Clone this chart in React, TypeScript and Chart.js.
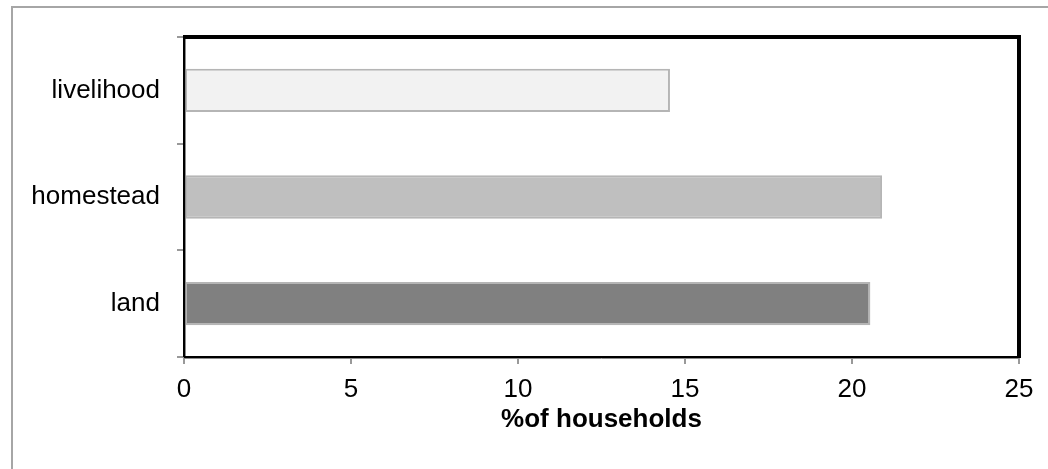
import React, { useEffect, useRef } from 'react';
import { Chart, registerables } from 'chart.js';

Chart.register(...registerables);

const categories = ['livelihood', 'homestead', 'land'];
const values = [14.55, 20.9, 20.55];
const barColors = ['#f2f2f2', '#bfbfbf', '#808080'];
const xTitle = '%of households';
const xMin = 0;
const xMax = 25;
const xStep = 5;

const FONT = '"Liberation Sans", Arial, Helvetica, sans-serif';

const framePlugin = {
  id: 'frame',
  beforeDraw(chart: any) {
    const ctx = chart.ctx;
    ctx.save();
    ctx.fillStyle = '#ffffff';
    ctx.fillRect(0, 0, chart.width, chart.height);
    ctx.strokeStyle = '#a6a6a6';
    ctx.lineWidth = 2;
    ctx.strokeRect(12, 7, chart.width + 40, chart.height + 40);
    ctx.restore();
  },
  afterDraw(chart: any) {
    const ctx = chart.ctx;
    const a = chart.chartArea;
    ctx.save();
    // gray inner companions of left/bottom axes
    ctx.strokeStyle = '#8c8c8c';
    ctx.lineWidth = 1;
    ctx.beginPath();
    ctx.moveTo(a.left + 1.5, a.top);
    ctx.lineTo(a.left + 1.5, a.bottom);
    ctx.moveTo(a.left, a.bottom + 1.5);
    ctx.lineTo(a.right, a.bottom + 1.5);
    ctx.stroke();
    // left & bottom axes: black
    ctx.strokeStyle = '#000000';
    ctx.lineWidth = 2;
    ctx.beginPath();
    ctx.moveTo(a.left, a.top);
    ctx.lineTo(a.left, a.bottom);
    ctx.moveTo(a.left, a.bottom);
    ctx.lineTo(a.right, a.bottom);
    ctx.stroke();
    // top & right thick border
    ctx.lineWidth = 4;
    ctx.beginPath();
    ctx.moveTo(a.left - 1, a.top);
    ctx.lineTo(a.right, a.top);
    ctx.lineTo(a.right, a.bottom + 1);
    ctx.stroke();
    ctx.restore();
  },
};

export default function App() {
  const ref = useRef<HTMLCanvasElement | null>(null);

  useEffect(() => {
    if (!ref.current) return;
    const chart = new Chart(ref.current, {
      type: 'bar',
      data: {
        labels: categories,
        datasets: [
          {
            data: values,
            backgroundColor: barColors,
            borderColor: '#b5b5b5',
            borderWidth: 2,
            borderSkipped: false,
            barPercentage: 0.407,
            categoryPercentage: 1,
          },
        ],
      },
      options: {
        indexAxis: 'y',
        responsive: false,
        animation: false,
        layout: { padding: { top: 37, right: 29, left: 0, bottom: 0 } },
        plugins: {
          legend: { display: false },
          tooltip: { enabled: false },
        },
        scales: {
          x: {
            type: 'linear',
            min: xMin,
            max: xMax,
            ticks: {
              stepSize: xStep,
              color: '#000000',
              font: { family: FONT, size: 26 },
              padding: 10,
            },
            grid: {
              drawOnChartArea: false,
              drawTicks: true,
              tickLength: 7,
              color: '#999999',
              lineWidth: 2,
            },
            border: { display: false },
            title: {
              display: true,
              text: xTitle,
              color: '#000000',
              font: { family: FONT, size: 26, weight: 'bold' },
              padding: { top: 0, bottom: 34 },
            },
            afterFit(scale: any) {
              scale.height = 112;
            },
          },
          y: {
            ticks: {
              color: '#000000',
              font: { family: FONT, size: 26 },
              padding: 17,
            },
            grid: {
              drawOnChartArea: false,
              drawTicks: true,
              tickLength: 7,
              color: '#999999',
              lineWidth: 2,
              offset: true,
            },
            border: { display: false },
            afterFit(scale: any) {
              scale.width = 184;
            },
          },
        },
      } as any,
      plugins: [framePlugin],
    });
    return () => chart.destroy();
  }, []);

  return (
    <div style={{ position: 'absolute', left: 0, top: 0, width: 1048, height: 469 }}>
      <canvas ref={ref} width={1048} height={469} style={{ display: 'block' }} />
    </div>
  );
}
